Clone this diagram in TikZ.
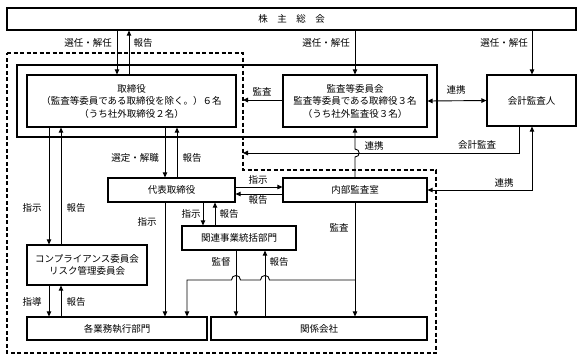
\documentclass[tikz,border=0pt]{standalone}
\usepackage{fontspec}
\setmainfont{Noto Sans CJK JP}
\usetikzlibrary{arrows.meta}

\begin{document}
\begin{tikzpicture}[x=1pt, y=-1pt, font=\fontsize{9.5}{12.5}\selectfont, >={Triangle[length=5pt,width=4.5pt]},
  box/.style={draw, line width=1.2pt, inner sep=0pt, align=center},
  link/.style={line width=0.9pt},
  lbl/.style={inner sep=1pt}]
\useasboundingbox (0,0) rectangle (583,360);

% outer frames
\draw[line width=1.2pt, dash pattern=on 4pt off 2.5pt]
  (7,53) -- (243,53) -- (243,170) -- (436,170) -- (436,353) -- (7,353) -- cycle;
\node[draw, line width=2.2pt, inner sep=0pt, minimum width=420pt, minimum height=72pt] (board) at (227,101) {};

% boxes
\node[box, minimum width=569pt, minimum height=22pt] (kabunushi) at (291.5,19) {株　主　総　会};
\node[box, minimum width=209pt, minimum height=52pt] (torishimari) at (131.5,101)
  {取締役\\（監査等委員である取締役を除く。）６名\\（うち社外取締役２名）};
\node[box, minimum width=144pt, minimum height=52pt] (kansa) at (355,101)
  {監査等委員会\\監査等委員である取締役３名\\（うち社外監査役３名）};
\node[box, minimum width=89pt, minimum height=51pt] (kaikei) at (531.5,100.5) {会計監査人};
\node[box, minimum width=127pt, minimum height=24pt] (daihyo) at (171.5,190) {代表取締役};
\node[box, minimum width=144pt, minimum height=24pt] (naibu) at (355,190) {内部監査室};
\node[box, minimum width=114pt, minimum height=24pt] (kanren) at (239,238) {関連事業統括部門};
\node[box, minimum width=120pt, minimum height=40pt] (comp) at (87,265)
  {コンプライアンス委員会\\リスク管理委員会};
\node[box, minimum width=180pt, minimum height=23pt] (gyomu) at (117,328.5) {各業務執行部門};
\node[box, minimum width=216pt, minimum height=23pt] (kankei) at (319,328.5) {関係会社};

\coordinate (auditpt) at (243,100);
\coordinate (acctpt) at (243,153);
\coordinate (branch) at (355,280);

% 株主総会
\draw[link, ->] (117,0 |- kabunushi.south) -- (117,0 |- torishimari.north);
\draw[link, <-] (129,0 |- kabunushi.south) -- (129,0 |- torishimari.north);
\draw[link, ->] (kabunushi.south -| kansa.north) -- (kansa.north);
\draw[link, ->] (532,0 |- kabunushi.south) -- (532,0 |- kaikei.north);
\node[lbl] (l1) at (88,43) {選任・解任};
\node[lbl] (l2) at (143,43) {報告};
\node[lbl] (l3) at (326,43) {選任・解任};
\node[lbl] (l4) at (504,43) {選任・解任};

% 監査等委員会・会計監査人
\draw[link, ->] (kansa.west |- auditpt) -- (auditpt);
\node[lbl] (l5) at (262,92) {監査};
\draw[link, <->] (kansa.east) -- (kaikei.west);
\node[lbl] (l6) at (456,90) {連携};
\draw[link, ->] (519,0 |- kaikei.south) -- (519,153) -- (acctpt);
\node[lbl] (l7) at (477,145) {会計監査};
\draw[link, ->] (naibu.north) -- (355,157) .. controls (360.5,157) and (360.5,149) .. (355,149) -- (kansa.south);
\node[lbl] (l8) at (374,146) {連携};
\draw[link, <->] (532,0 |- kaikei.south) -- (532,0 |- naibu.east) -- (naibu.east);
\node[lbl] (l9) at (504,183) {連携};

% 取締役から
\draw[link, ->] (49,0 |- torishimari.south) -- (49,0 |- comp.north);
\draw[link, <-] (61,0 |- torishimari.south) -- (61,0 |- comp.north);
\node[lbl] (l10) at (32,208) {指示};
\node[lbl] (l11) at (76,208) {報告};
\draw[link, ->] (165,0 |- torishimari.south) -- (165,0 |- daihyo.north);
\draw[link, <-] (177,0 |- torishimari.south) -- (177,0 |- daihyo.north);
\node[lbl] (l12) at (135,158) {選定・解職};
\node[lbl] (l13) at (192,158) {報告};

% 代表取締役から
\draw[link, ->] (daihyo.east |- 0,187) -- (naibu.west |- 0,187);
\draw[link, <-] (daihyo.east |- 0,194) -- (naibu.west |- 0,194);
\node[lbl] (l14) at (258,180) {指示};
\node[lbl] (l15) at (258,200) {報告};
\draw[link, ->] (165,0 |- daihyo.south) -- (165,0 |- gyomu.north);
\node[lbl] (l16) at (147,222) {指示};
\draw[link, ->] (203,0 |- daihyo.south) -- (203,0 |- kanren.north);
\draw[link, <-] (215,0 |- daihyo.south) -- (215,0 |- kanren.north);
\node[lbl] (l17) at (191,214) {指示};
\node[lbl] (l18) at (229,214) {報告};

% 内部監査室から
\draw[link, ->] (naibu.south) -- (naibu.south |- kankei.north);
\node[lbl] (l19) at (339,228) {監査};
\draw[link, ->] (branch) -- (269.5,280) .. controls (269.5,274) and (260.5,274) .. (260.5,280)
  -- (240.5,280) .. controls (240.5,274) and (231.5,274) .. (231.5,280) -- (187,280) -- (187,0 |- gyomu.north);

% 関連事業統括部門から
\draw[link, ->] (236,0 |- kanren.south) -- (236,0 |- kankei.north);
\draw[link, <-] (265,0 |- kanren.south) -- (265,0 |- kankei.north);
\node[lbl] (l20) at (221,262) {監督};
\node[lbl] (l21) at (279,262) {報告};

% 委員会から
\draw[link, ->] (49,0 |- comp.south) -- (49,0 |- gyomu.north);
\draw[link, <-] (61,0 |- comp.south) -- (61,0 |- gyomu.north);
\node[lbl] (l22) at (32,302) {指導};
\node[lbl] (l23) at (76,302) {報告};
\end{tikzpicture}
\end{document}
